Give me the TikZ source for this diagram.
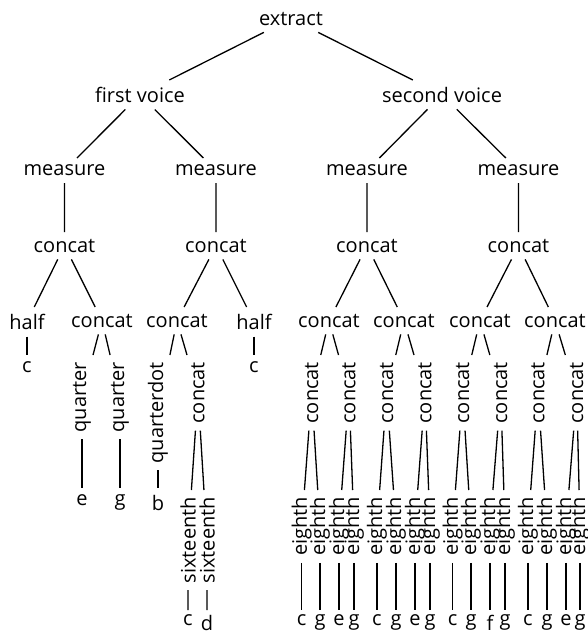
\documentclass[tikz,border=0pt]{standalone}
\usepackage{graphicx}
\usepackage{fontspec}
\setmainfont{Open Sans}
\newcommand{\up}[1]{\rotatebox{90}{#1}}
\tikzset{
  tn/.style={anchor=north,inner sep=3.3pt,font=\fontsize{10}{12}\selectfont},
  leaf/.style={tn,inner sep=2.2pt},
  branch/.style={line width=0.65pt},
}

\begin{document}
\begin{tikzpicture}[x=0.5pt,y=-0.5pt]
  \useasboundingbox (0,0) rectangle (588,632);
  % top of the tree
  \node[tn] (extract) at (291,5) {extract};
  \node[tn] (v1) at (140,80) {first voice};
  \node[tn] (v2) at (442,80) {second voice};
  \foreach \i/\x/\p in {1/64.5/v1,2/216/v1,3/367/v2,4/518.5/v2} {
    \node[tn] (m\i) at (\x,158) {measure};
    \node[tn] (c\i) at (\x,232) {concat};
    \draw[branch] (\p) -- (m\i) (m\i) -- (c\i);
  }
  \draw[branch] (extract) -- (v1) (extract) -- (v2);
  % first voice
  \node[tn] (h1) at (27,307) {half};
  \node[tn] (c11) at (102,307) {concat};
  \node[tn] (c21) at (177,307) {concat};
  \node[tn] (h2) at (254,307) {half};
  \node[tn] (n1) at (27,355) {c};
  \node[tn] (n2) at (254,355) {c};
  \node[tn] (qa) at (82,355) {\up{quarter}};
  \node[tn] (qb) at (120,355) {\up{quarter}};
  \node[tn] (qd) at (158,355) {\up{quarterdot}};
  \node[tn] (cs) at (198,355) {\up{concat}};
  \node[tn] (na) at (82,488) {e};
  \node[tn] (nb) at (120,488) {g};
  \node[tn] (nd) at (158,488) {b};
  \node[tn] (sa) at (188,490) {\up{sixteenth}};
  \node[tn] (sb) at (207,490) {\up{sixteenth}};
  \node[leaf] (nc) at (188,610) {c};
  \node[leaf] (ne) at (207,610) {d};
  \draw[branch] (c1) -- (h1) (c1) -- (c11) (c2) -- (c21) (c2) -- (h2);
  \draw[branch] (h1) -- (n1) (h2) -- (n2);
  \draw[branch] (c11) -- (qa) (c11) -- (qb) (c21) -- (qd) (c21) -- (cs);
  \draw[branch] (qa) -- (na) (qb) -- (nb) (qd) -- (nd);
  \draw[branch] (cs) -- (sa) (cs) -- (sb) (sa) -- (nc) (sb) -- (ne);
  % second voice
  \node[tn] (c31) at (329,307) {concat};
  \node[tn] (c32) at (404,307) {concat};
  \node[tn] (c41) at (480,307) {concat};
  \node[tn] (c42) at (555,307) {concat};
  \draw[branch] (c3) -- (c31) (c3) -- (c32) (c4) -- (c41) (c4) -- (c42);
  \foreach \i/\xc/\xa/\xb/\na/\nb/\p in {
      1/311.7/301.7/320/c/g/c31, 2/349/339/354/e/g/c31,
      3/386.7/377/396/c/g/c32, 4/425/415/430/e/g/c32,
      5/462.7/452.7/471/c/g/c41, 6/500.7/490/505/f/g/c41,
      7/538/528/547/c/g/c42, 8/576.7/566/580/e/g/c42} {
    \node[tn] (q\i) at (\xc,355) {\up{concat}};
    \node[tn] (q\i-a) at (\xa,490) {\up{eighth}};
    \node[tn] (q\i-b) at (\xb,490) {\up{eighth}};
    \node[leaf] (k\i-a) at (\xa,610) {\na};
    \node[leaf] (k\i-b) at (\xb,610) {\nb};
    \draw[branch] (\p) -- (q\i);
    \draw[branch] (q\i) -- (q\i-a) (q\i) -- (q\i-b);
    \draw[branch] (q\i-a) -- (k\i-a) (q\i-b) -- (k\i-b);
  }
\end{tikzpicture}
\end{document}
